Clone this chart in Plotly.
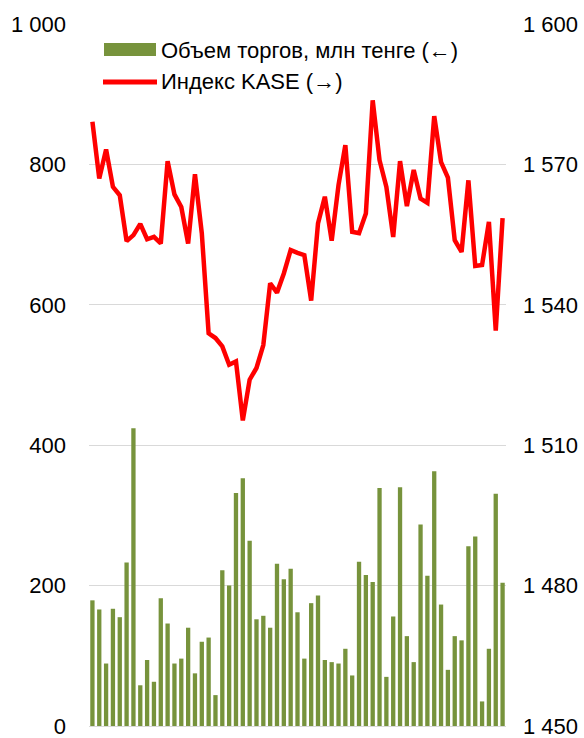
import plotly.graph_objects as go

# ---- data ----
periods = list(range(1, 62))
volume = [179, 166, 89, 167, 155, 233, 424, 58, 94, 63,
          182, 146, 89, 96, 140, 75, 120, 126, 44, 222,
          200, 332, 353, 264, 152, 157, 140, 231, 209, 224,
          162, 96, 175, 186, 94, 91, 89, 110, 72, 234,
          215, 205, 339, 70, 156, 340, 128, 91, 287, 214,
          363, 173, 80, 128, 122, 256, 270, 35, 110, 331, 204]
kase = [1579.1, 1567.0, 1573.2, 1565.2, 1563.4, 1553.6, 1554.9, 1557.3, 1554.0, 1554.5,
        1553.1, 1570.7, 1563.6, 1560.9, 1553.1, 1567.9, 1555.3, 1533.9, 1532.9, 1531.1,
        1527.2, 1527.9, 1515.3, 1524.0, 1526.5, 1531.4, 1544.6, 1542.6, 1546.7, 1551.7,
        1551.1, 1550.6, 1540.9, 1557.4, 1563.1, 1553.7, 1565.6, 1574.1, 1555.6, 1555.3,
        1559.5, 1583.7, 1570.9, 1565.2, 1554.5, 1570.7, 1561.1, 1568.8, 1562.7, 1561.8,
        1580.3, 1570.5, 1567.2, 1553.8, 1551.3, 1566.6, 1548.3, 1548.5, 1557.7, 1534.5,
        1558.5]
left_ticks = [0, 200, 400, 600, 800, 1000]
right_ticks = [1450, 1480, 1510, 1540, 1570, 1600]
name_bar = "Объем торгов, млн тенге (←)"
name_line = "Индекс KASE (→)"

GREEN = "#77933C"
RED = "#FF0000"
FONT = "Liberation Sans Narrow, Arial Narrow, Liberation Sans, Arial, sans-serif"
FS = 22

W, H = 584, 738
L, R, T, B = 89, 78, 24, 12
pw, ph = W - L - R, H - T - B

def px_x(x):
    return (x - L) / pw

def px_y(y):
    return (H - B - y) / ph

fig = go.Figure()
fig.add_trace(go.Bar(x=periods, y=volume, marker=dict(color=GREEN, line=dict(width=0)),
                     name=name_bar, showlegend=False))
fig.add_trace(go.Scatter(x=periods, y=kase, yaxis="y2", mode="lines",
                         line=dict(color=RED, width=4.5), name=name_line, showlegend=False))

# custom legend
shapes = [
    dict(type="rect", xref="paper", yref="paper",
         x0=px_x(104), x1=px_x(156), y0=px_y(56), y1=px_y(43),
         fillcolor=GREEN, line=dict(width=0)),
    dict(type="line", xref="paper", yref="paper",
         x0=px_x(103), x1=px_x(157), y0=px_y(82), y1=px_y(82),
         line=dict(color=RED, width=5)),
]
annotations = [
    dict(text=name_bar, xref="paper", yref="paper", x=px_x(159), y=px_y(50),
         xanchor="left", yanchor="middle", showarrow=False,
         font=dict(size=FS, color="#000000", family=FONT)),
    dict(text=name_line, xref="paper", yref="paper", x=px_x(159), y=px_y(82),
         xanchor="left", yanchor="middle", showarrow=False,
         font=dict(size=FS, color="#000000", family=FONT)),
]

fig.update_layout(
    width=W, height=H,
    margin=dict(l=L, r=R, t=T, b=B, pad=0, autoexpand=False),
    paper_bgcolor="white", plot_bgcolor="white",
    separators=", ",
    bargap=0.37,
    font=dict(family=FONT, size=FS, color="#000000"),
    shapes=shapes, annotations=annotations,
    showlegend=False,
    xaxis=dict(type="linear", range=[0.5, 61.5], showticklabels=False, showgrid=False,
               zeroline=False, showline=False, ticks="", automargin=False),
    yaxis=dict(range=[0, 1000], tickvals=left_ticks, tickformat=",d",
               showgrid=True, gridcolor="#D9D9D9", gridwidth=1,
               zeroline=True, zerolinecolor="#D9D9D9", zerolinewidth=1,
               showline=False, ticks="", ticklabelstandoff=22,
               automargin=False, ticklabeloverflow="allow"),
    yaxis2=dict(range=[1450, 1600], tickvals=right_ticks, tickformat=",d",
                overlaying="y", side="right", showgrid=False, zeroline=False,
                showline=False, ticks="", ticklabelstandoff=16,
                automargin=False, ticklabeloverflow="allow"),
)

fig.write_html(
    "out.html",
    config={"displayModeBar": False},
    post_script="document.body.style.margin='0';document.body.style.overflow='hidden';",
)
